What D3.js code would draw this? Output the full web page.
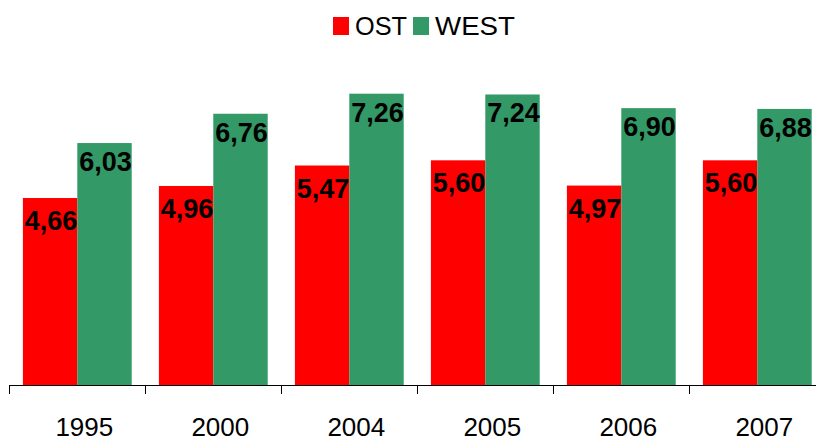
<!DOCTYPE html>
<html lang="de">
<head>
  <meta charset="UTF-8">
  <title>OST / WEST</title>
  <script src="https://d3js.org/d3.v7.min.js"></script>
  <style>
    body { margin: 0; background: #fff; }
    svg { display: block; font-family: "Liberation Sans", Arial, sans-serif; }
  </style>
</head>
<body>
  <div id="chart"></div>
  <script>
    // data
    const years = ["1995", "2000", "2004", "2005", "2006", "2007"];
    const seriesNames = ["OST", "WEST"];
    const ostValues = [4.66, 4.96, 5.47, 5.60, 4.97, 5.60];
    const westValues = [6.03, 6.76, 7.26, 7.24, 6.90, 6.88];

    const width = 816, height = 441;
    const colors = { OST: "#ff0000", WEST: "#339966" };
    const labelOffset = { OST: 32, WEST: 28 };

    const svg = d3.select("#chart").append("svg")
      .attr("width", width)
      .attr("height", height);

    const x = d3.scaleBand()
      .domain(years)
      .range([9.3, 9.3 + 136 * years.length])
      .paddingInner(0.2)
      .paddingOuter(0.1);

    const x1 = d3.scaleBand()
      .domain(seriesNames)
      .range([0, x.bandwidth()]);

    const y = d3.scaleLinear()
      .domain([0, 8])
      .range([385, 64]);

    const rows = years.map((yr, i) => ({ year: yr, OST: ostValues[i], WEST: westValues[i] }));

    const groups = svg.append("g").selectAll("g")
      .data(rows)
      .join("g")
      .attr("transform", d => `translate(${x(d.year)},0)`);

    groups.selectAll("rect")
      .data(d => seriesNames.map(k => ({ key: k, value: d[k] })))
      .join("rect")
      .attr("x", d => x1(d.key))
      .attr("y", d => y(d.value))
      .attr("width", x1.bandwidth())
      .attr("height", d => y(0) - y(d.value))
      .attr("fill", d => colors[d.key]);

    groups.selectAll("text")
      .data(d => seriesNames.map(k => ({ key: k, value: d[k] })))
      .join("text")
      .attr("x", d => x1(d.key) + x1.bandwidth() / 2 + 1)
      .attr("y", d => y(d.value) + labelOffset[d.key])
      .attr("text-anchor", "middle")
      .attr("font-size", 27)
      .attr("font-weight", "bold")
      .attr("fill", "#000")
      .text(d => d.value.toFixed(2).replace(".", ","));

    // x axis with ticks between categories
    const axis = svg.append("g").attr("stroke", "#000").attr("stroke-width", 1);
    axis.append("line")
      .attr("x1", x.range()[0]).attr("x2", width)
      .attr("y1", y(0) + 0.5).attr("y2", y(0) + 0.5);
    const step = x.step();
    const tickXs = d3.range(years.length + 1).map(i => x.range()[0] + i * step);
    axis.selectAll("line.tick")
      .data(tickXs)
      .join("line")
      .attr("class", "tick")
      .attr("x1", d => Math.round(d) + 0.5).attr("x2", d => Math.round(d) + 0.5)
      .attr("y1", y(0)).attr("y2", y(0) + 9);

    svg.append("g").selectAll("text")
      .data(years)
      .join("text")
      .attr("x", d => x(d) + x.bandwidth() / 2 + 7)
      .attr("y", 436)
      .attr("text-anchor", "middle")
      .attr("font-size", 26)
      .attr("fill", "#000")
      .text(d => d);

    // legend
    const legend = svg.append("g");
    const legendItems = [
      { key: "OST", sx: 333, tx: 355, len: 52 },
      { key: "WEST", sx: 413, tx: 435, len: 80 }
    ];
    legendItems.forEach(item => {
      legend.append("rect")
        .attr("x", item.sx).attr("y", 17)
        .attr("width", 16).attr("height", 18)
        .attr("fill", colors[item.key]);
      legend.append("text")
        .attr("x", item.tx).attr("y", 35)
        .attr("font-size", 25)
        .attr("textLength", item.len)
        .attr("lengthAdjust", "spacingAndGlyphs")
        .attr("fill", "#000")
        .text(item.key);
    });
  </script>
</body>
</html>
